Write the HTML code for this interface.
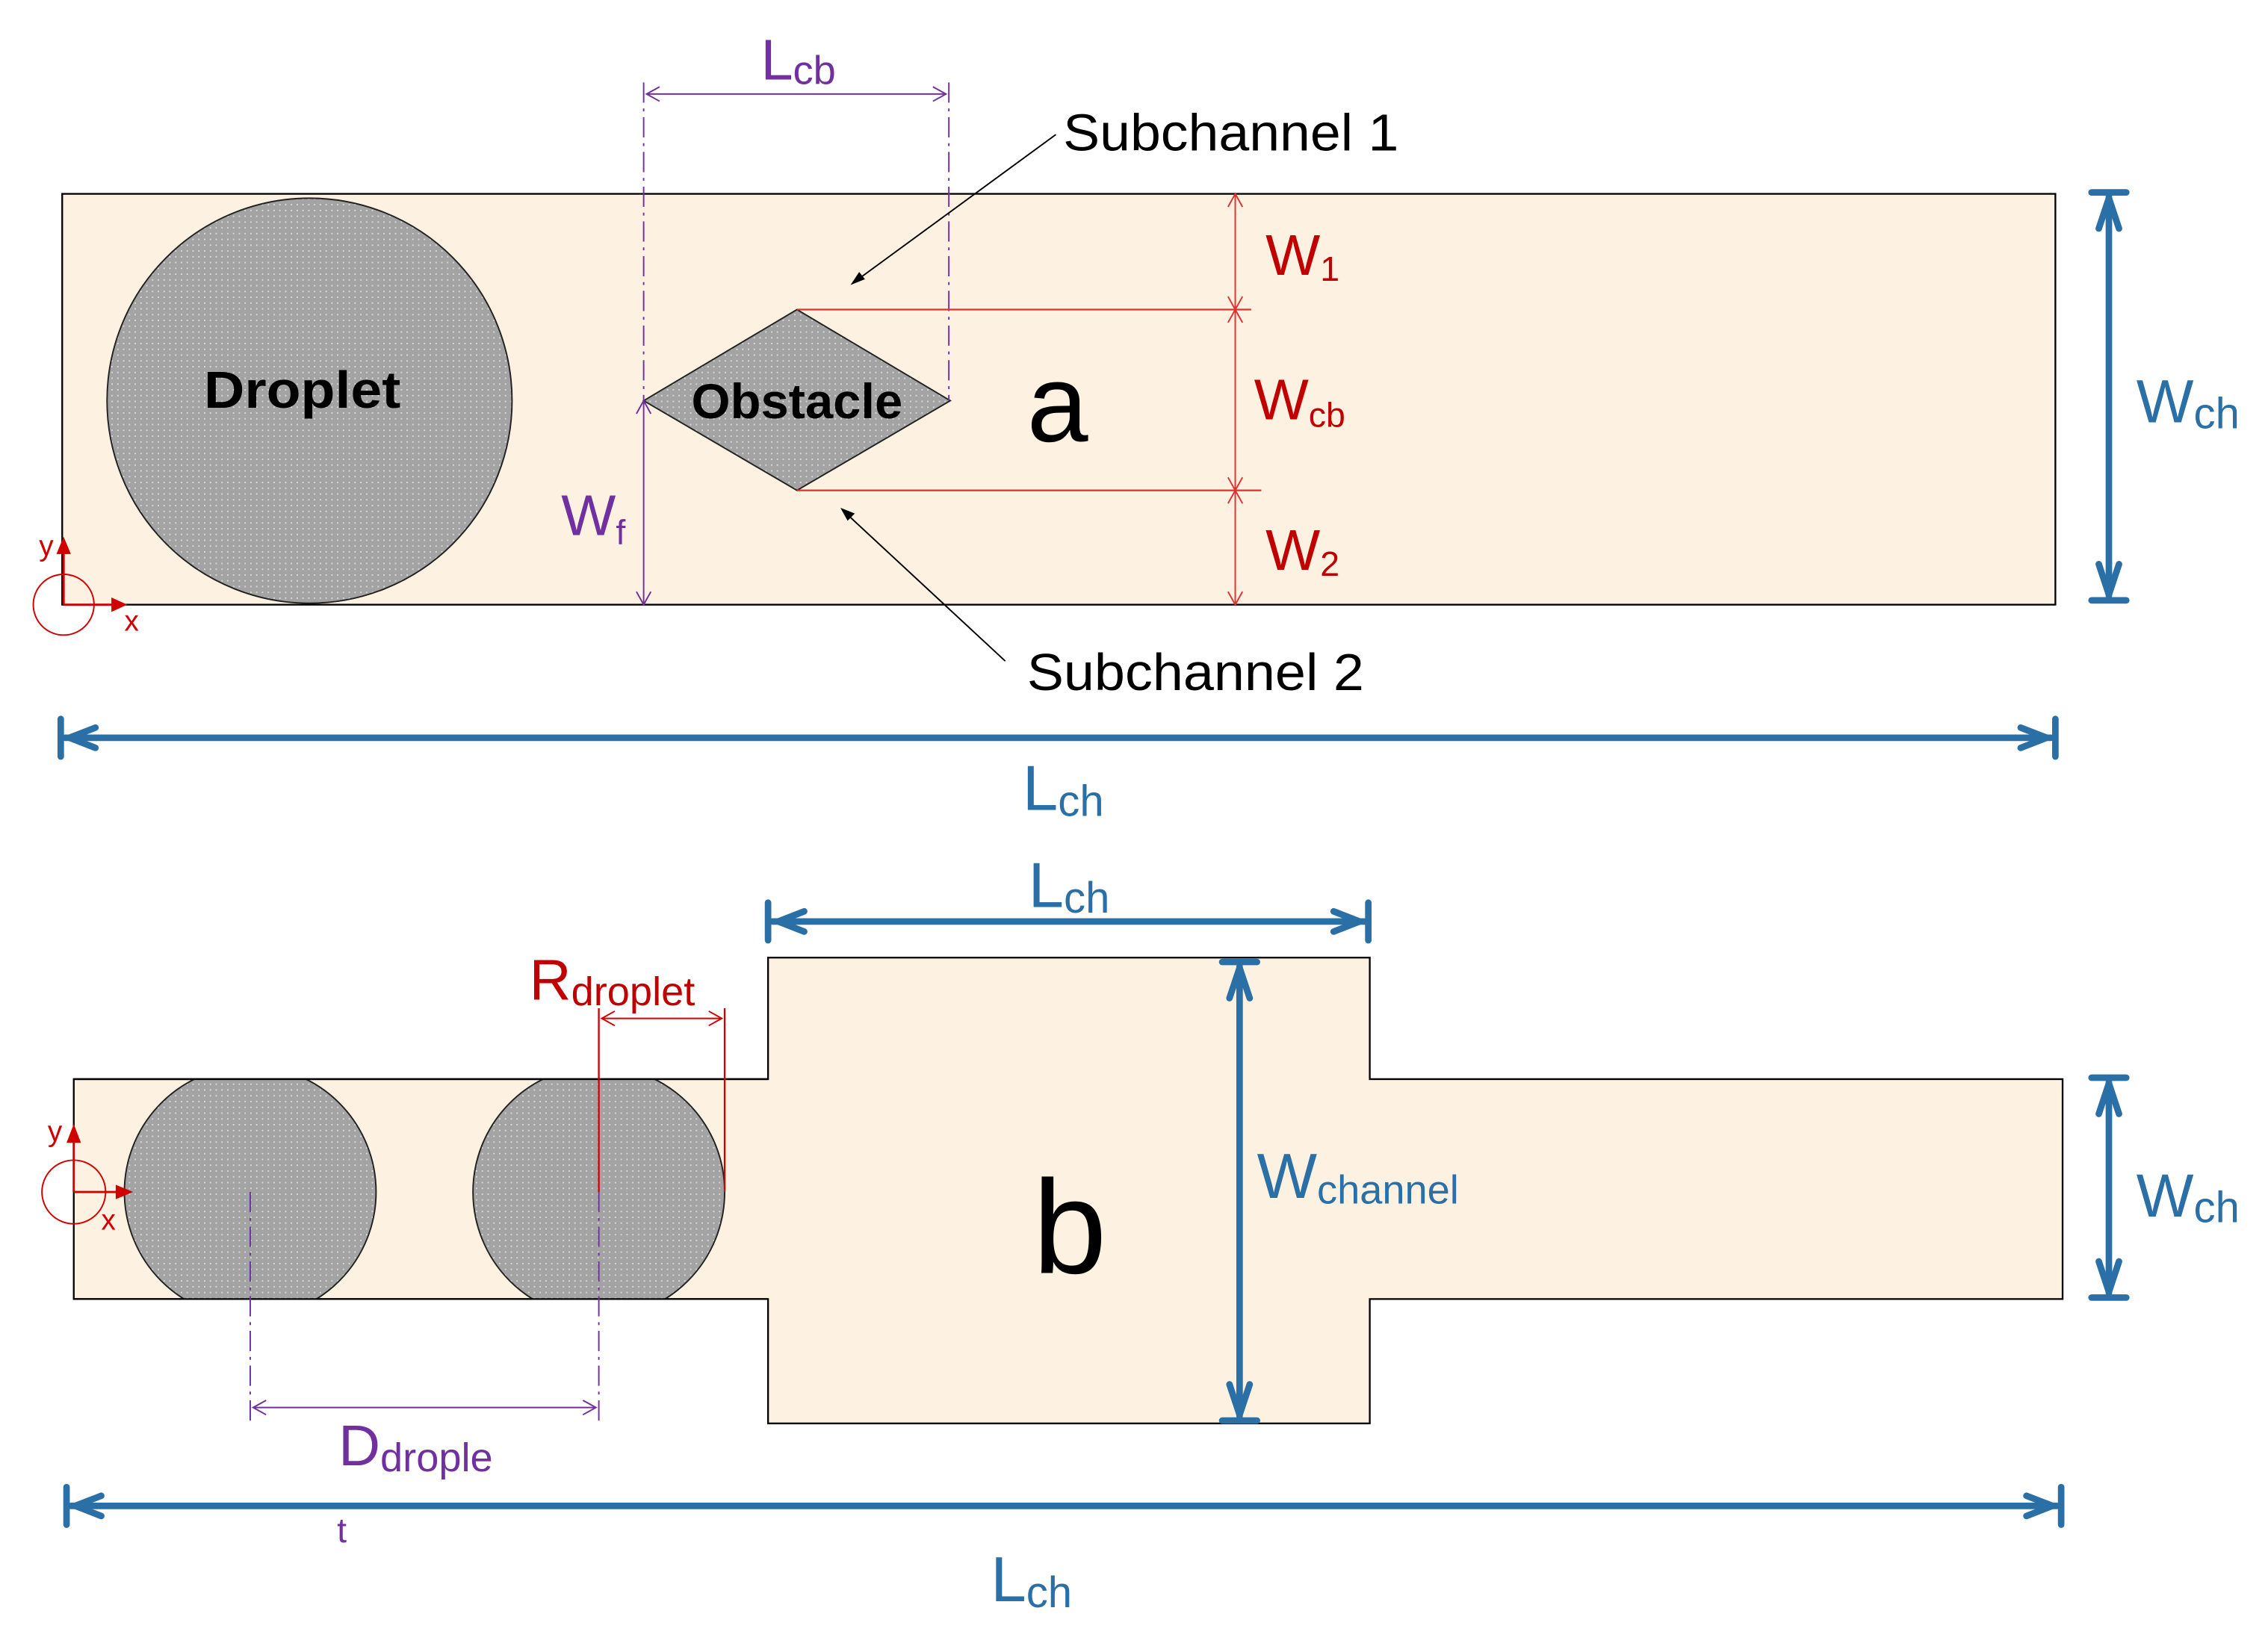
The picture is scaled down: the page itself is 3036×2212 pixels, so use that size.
<!DOCTYPE html>
<html><head><meta charset="utf-8"><style>html,body{margin:0;padding:0;background:#fff}svg{display:block}</style></head>
<body>
<svg width="3036" height="2212" viewBox="0 0 1568 1142" preserveAspectRatio="none" xmlns="http://www.w3.org/2000/svg" font-family="Liberation Sans, Arial, sans-serif">
<defs>
<pattern id="dots" width="4" height="4" patternUnits="userSpaceOnUse">
<rect width="4" height="4" fill="#a3a3a3"/><rect x="1" y="1" width="1" height="1" fill="#d8d8d8"/>
</pattern>
<clipPath id="chb"><rect x="51" y="746" width="480" height="152"/></clipPath>
</defs>
<g fill="none">
<rect x="43" y="134" width="1378" height="284" fill="#fdf1e1" stroke="#000" stroke-width="1.2"/>
<circle cx="214" cy="277" r="140" fill="url(#dots)" stroke="#222" stroke-width="1"/>
<polygon points="445,277 551,214 657,277 551,339" fill="url(#dots)" stroke="#222" stroke-width="1"/>
<g stroke="#7030a0" stroke-width="1">
<line x1="445" y1="57" x2="445" y2="277" stroke-dasharray="14,4,2,4"/>
<line x1="656" y1="57" x2="656" y2="277" stroke-dasharray="14,4,2,4"/>
<line x1="447" y1="65" x2="654" y2="65"/>
<polyline points="456,60 447,65 456,70"/><polyline points="645,60 654,65 645,70"/>
<line x1="445" y1="277" x2="445" y2="418"/>
<polyline points="440,286 445,277 450,286"/><polyline points="440,409 445,418 450,409"/>
</g>
<g stroke="#e03030" stroke-width="1.2">
<line x1="551" y1="214" x2="865" y2="214"/><line x1="551" y1="339" x2="872" y2="339"/>
<line x1="854" y1="134" x2="854" y2="418" stroke-width="1"/>
<polyline points="849,143 854,134 859,143" stroke-width="1"/>
<polyline points="849,205 854,214 859,205" stroke-width="1"/><polyline points="849,223 854,214 859,223" stroke-width="1"/>
<polyline points="849,330 854,339 859,330" stroke-width="1"/><polyline points="849,348 854,339 859,348" stroke-width="1"/>
<polyline points="849,409 854,418 859,409" stroke-width="1"/>
</g>
<g stroke="#000" stroke-width="1">
<line x1="730" y1="93" x2="592" y2="194"/><line x1="695" y1="457" x2="584" y2="354"/>
</g>
<polygon points="588,197 594,188 598,193" fill="#000"/>
<polygon points="581,351 591,355 586,360" fill="#000"/>
<g stroke="#d00000" stroke-width="1.5">
<circle cx="44" cy="418" r="21" stroke-width="1"/>
<line x1="44" y1="418" x2="44" y2="378"/><line x1="44" y1="418" x2="80" y2="418"/>
</g>
<polygon points="39,383 44,371 49,383" fill="#d00000"/><polygon points="77,413 88,418 77,423" fill="#d00000"/>
<g stroke="#2a6fa6" stroke-width="4.5" stroke-linecap="round">
<line x1="1458" y1="136" x2="1458" y2="412"/>
<line x1="1446" y1="133" x2="1470" y2="133"/><line x1="1446" y1="415" x2="1470" y2="415"/>
<polyline points="1451,158 1458,137 1465,158" stroke-linejoin="round"/>
<polyline points="1451,390 1458,411 1465,390" stroke-linejoin="round"/>
<line x1="45" y1="510" x2="1418" y2="510"/>
<line x1="42" y1="497" x2="42" y2="523"/><line x1="1421" y1="497" x2="1421" y2="523"/>
<polyline points="66,503 48,510 66,517" stroke-linejoin="round"/>
<polyline points="1397,503 1415,510 1397,517" stroke-linejoin="round"/>
</g>

<polygon points="51,746 531,746 531,662 947,662 947,746 1426,746 1426,898 947,898 947,984 531,984 531,898 51,898" fill="#fdf1e1" stroke="#000" stroke-width="1.2"/>
<g clip-path="url(#chb)">
<circle cx="173" cy="824" r="87" fill="url(#dots)" stroke="#222" stroke-width="1"/>
<circle cx="414" cy="824" r="87" fill="url(#dots)" stroke="#222" stroke-width="1"/>
</g>
<line x1="51" y1="746" x2="531" y2="746" stroke="#000" stroke-width="1.2"/>
<line x1="51" y1="898" x2="531" y2="898" stroke="#000" stroke-width="1.2"/>
<g stroke="#7030a0" stroke-width="1">
<line x1="173" y1="824" x2="173" y2="982" stroke-dasharray="14,4,2,4"/>
<line x1="414" y1="824" x2="414" y2="982" stroke-dasharray="14,4,2,4"/>
<line x1="175" y1="973" x2="412" y2="973"/>
<polyline points="184,968 175,973 184,978"/><polyline points="403,968 412,973 403,978"/>
</g>
<g stroke="#d00000" stroke-width="1.2">
<line x1="414" y1="697" x2="414" y2="824"/><line x1="501" y1="697" x2="501" y2="824"/>
<line x1="416" y1="704" x2="499" y2="704" stroke-width="1"/>
<polyline points="425,699 416,704 425,709" stroke-width="1"/><polyline points="490,699 499,704 490,709" stroke-width="1"/>
</g>
<g stroke="#d00000" stroke-width="1.5">
<circle cx="51" cy="824" r="22" stroke-width="1"/>
<line x1="51" y1="824" x2="51" y2="786"/><line x1="51" y1="824" x2="84" y2="824"/>
</g>
<polygon points="46,790 51,777 56,790" fill="#d00000"/><polygon points="80,819 92,824 80,829" fill="#d00000"/>
<g stroke="#2a6fa6" stroke-width="4.5" stroke-linecap="round">
<line x1="534" y1="637" x2="944" y2="637"/>
<line x1="531" y1="624" x2="531" y2="650"/><line x1="946" y1="624" x2="946" y2="650"/>
<polyline points="556,630 538,637 556,644" stroke-linejoin="round"/>
<polyline points="922,630 940,637 922,644" stroke-linejoin="round"/>
<line x1="857" y1="668" x2="857" y2="979"/>
<line x1="845" y1="665" x2="869" y2="665"/><line x1="845" y1="982" x2="869" y2="982"/>
<polyline points="850,690 857,669 864,690" stroke-linejoin="round"/>
<polyline points="850,957 857,978 864,957" stroke-linejoin="round"/>
<line x1="1458" y1="748" x2="1458" y2="894"/>
<line x1="1446" y1="745" x2="1470" y2="745"/><line x1="1446" y1="897" x2="1470" y2="897"/>
<polyline points="1451,770 1458,749 1465,770" stroke-linejoin="round"/>
<polyline points="1451,872 1458,893 1465,872" stroke-linejoin="round"/>
<line x1="49" y1="1041" x2="1422" y2="1041"/>
<line x1="46" y1="1028" x2="46" y2="1054"/><line x1="1425" y1="1028" x2="1425" y2="1054"/>
<polyline points="70,1034 52,1041 70,1048" stroke-linejoin="round"/>
<polyline points="1401,1034 1419,1041 1401,1048" stroke-linejoin="round"/>
</g>
</g>

<g font-size="36">
<text x="141" y="282" font-weight="bold" font-size="36" fill="#000" textLength="136" lengthAdjust="spacingAndGlyphs">Droplet</text>
<text x="478" y="289" font-weight="bold" font-size="34" fill="#000" textLength="146" lengthAdjust="spacingAndGlyphs">Obstacle</text>
<text x="710" y="305" font-size="76" fill="#000">a</text>
<text x="714" y="880" font-size="92" fill="#000">b</text>
<text x="735" y="104" fill="#000" textLength="232" lengthAdjust="spacingAndGlyphs">Subchannel 1</text>
<text x="710" y="477" fill="#000" textLength="233" lengthAdjust="spacingAndGlyphs">Subchannel 2</text>

<text x="526" y="55" fill="#7030a0" font-size="40">L<tspan font-size="28" dy="3">cb</tspan></text>
<text x="388" y="370" fill="#7030a0" font-size="40">W<tspan font-size="24" dy="6">f</tspan></text>

<text x="875" y="190" fill="#c00000" font-size="40">W<tspan font-size="24" dy="4">1</tspan></text>
<text x="867" y="290" fill="#c00000" font-size="40">W<tspan font-size="24" dy="5">cb</tspan></text>
<text x="875" y="394" fill="#c00000" font-size="40">W<tspan font-size="24" dy="4">2</tspan></text>

<text x="1477" y="292" fill="#2a6fa6" font-size="42">W<tspan font-size="30" dy="4">ch</tspan></text>
<text x="707" y="560" fill="#2a6fa6" font-size="44">L<tspan font-size="30" dy="4">ch</tspan></text>
<text x="711" y="627" fill="#2a6fa6" font-size="44">L<tspan font-size="30" dy="4">ch</tspan></text>
<text x="869" y="828" fill="#2a6fa6" font-size="44">W<tspan font-size="28" dy="4">channel</tspan></text>
<text x="1477" y="841" fill="#2a6fa6" font-size="42">W<tspan font-size="30" dy="4">ch</tspan></text>
<text x="685" y="1107" fill="#2a6fa6" font-size="44">L<tspan font-size="30" dy="4">ch</tspan></text>

<text x="366" y="691" fill="#c00000" font-size="40">R<tspan font-size="28" dy="4">droplet</tspan></text>
<text x="234" y="1013" fill="#7030a0" font-size="40">D<tspan font-size="28" dy="4">drople</tspan></text>
<text x="233" y="1066" fill="#7030a0" font-size="24">t</text>

<text x="27" y="384" fill="#d00000" font-size="20">y</text>
<text x="86" y="436" fill="#d00000" font-size="20">x</text>
<text x="33" y="789" fill="#d00000" font-size="20">y</text>
<text x="70" y="850" fill="#d00000" font-size="20">x</text>
</g>
</svg>
</body></html>
